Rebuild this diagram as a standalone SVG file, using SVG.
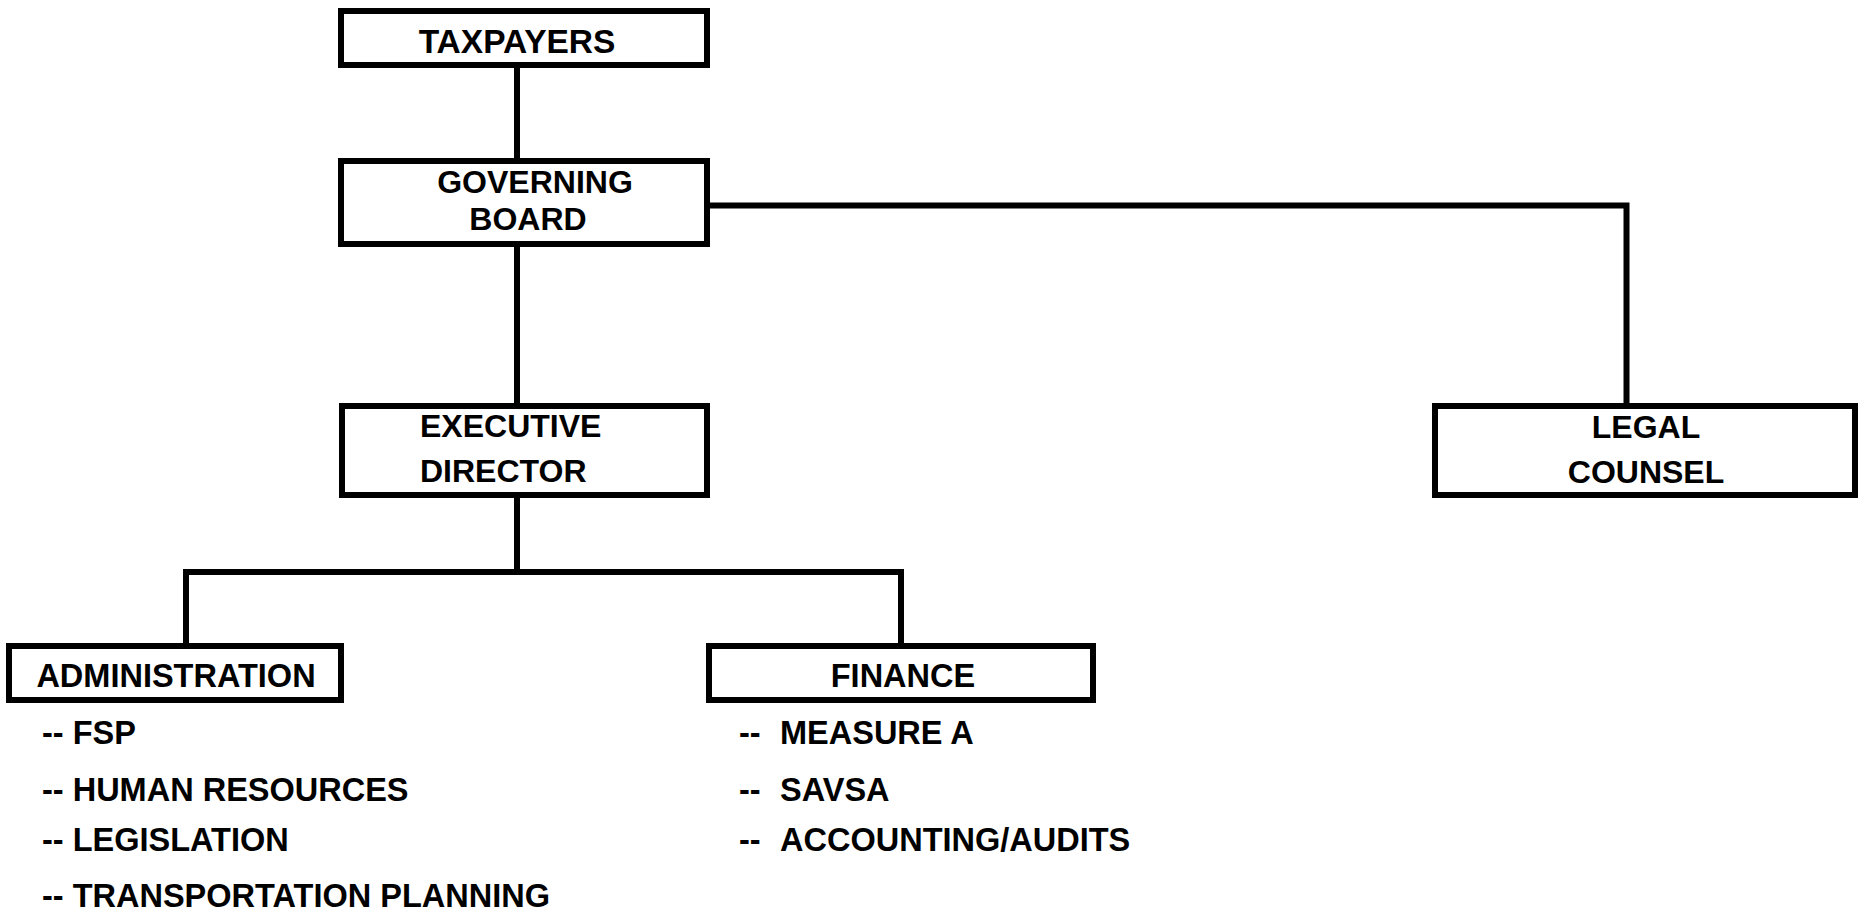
<svg xmlns="http://www.w3.org/2000/svg" width="1866" height="915" viewBox="0 0 1866 915">
<style>
.box{fill:#fff;stroke:#000;stroke-width:6}
.ln{fill:none;stroke:#000;stroke-width:6;stroke-linecap:square}
text{font-family:"Liberation Sans",Arial,sans-serif;font-weight:bold;font-size:32px;fill:#000}
.c{text-anchor:middle}
.li{font-size:32.5px}
</style>
<rect width="1866" height="915" fill="#fff"/>
<g id="connectors">
<path class="ln" d="M517 68V158"/>
<path class="ln" d="M517 247V403"/>
<path class="ln" d="M710 205.5H1626.5V403"/>
<path class="ln" d="M517 498V572"/>
<path class="ln" d="M186 643V572H901V643"/>
</g>
<g id="taxpayers">
<rect class="box" x="341" y="11" width="366" height="54"/>
<text class="c" x="517" y="53" style="font-size:33.5px">TAXPAYERS</text>
</g>
<g id="governing-board">
<rect class="box" x="341" y="161" width="366" height="83"/>
<text class="c" x="535" y="193">GOVERNING</text>
<text class="c" x="528" y="230">BOARD</text>
</g>
<g id="executive-director">
<rect class="box" x="342" y="406" width="365" height="89"/>
<text x="420" y="437">EXECUTIVE</text>
<text x="420" y="482">DIRECTOR</text>
</g>
<g id="legal-counsel">
<rect class="box" x="1435" y="406" width="420" height="89"/>
<text class="c" x="1646" y="438">LEGAL</text>
<text class="c" x="1646" y="483">COUNSEL</text>
</g>
<g id="administration">
<rect class="box" x="9" y="646" width="332" height="54"/>
<text class="c li" x="176" y="687">ADMINISTRATION</text>
<text class="li" x="42" y="744">-- FSP</text>
<text class="li" x="42" y="801">-- HUMAN RESOURCES</text>
<text class="li" x="42" y="851">-- LEGISLATION</text>
<text class="li" x="42" y="907">-- TRANSPORTATION PLANNING</text>
</g>
<g id="finance">
<rect class="box" x="709" y="646" width="384" height="54"/>
<text class="c li" x="903" y="687">FINANCE</text>
<text class="li" x="739" y="744">--<tspan x="780">MEASURE A</tspan></text>
<text class="li" x="739" y="801">--<tspan x="780">SAVSA</tspan></text>
<text class="li" x="739" y="851">--<tspan x="780">ACCOUNTING/AUDITS</tspan></text>
</g>
</svg>
